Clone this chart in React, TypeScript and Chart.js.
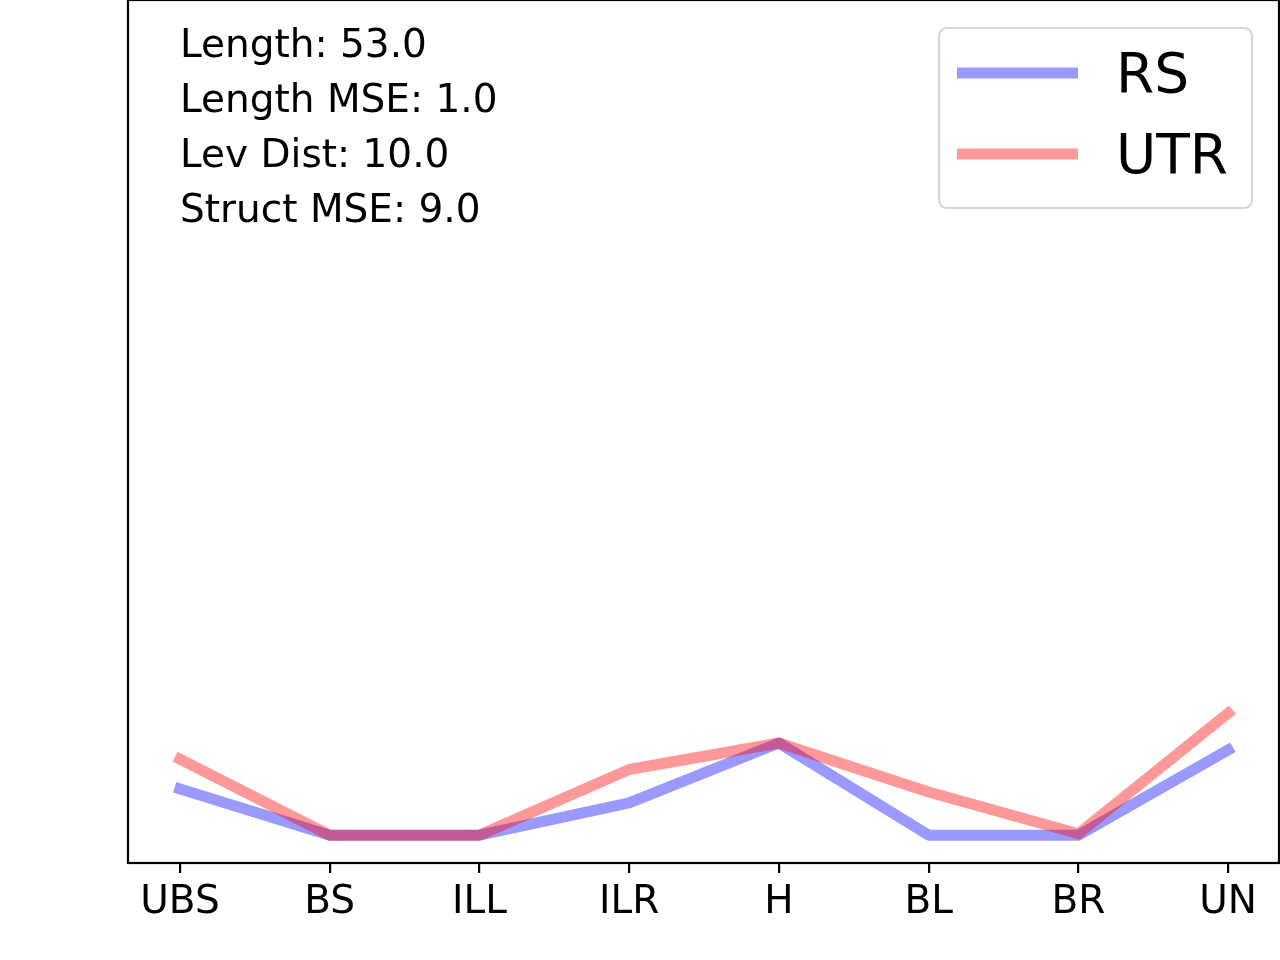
import React, { useEffect, useRef } from 'react';
import { Chart, registerables } from 'chart.js';

Chart.register(...registerables);

const categories = ['UBS', 'BS', 'ILL', 'ILR', 'H', 'BL', 'BR', 'UN'];
const seriesNames = ['RS', 'UTR'];
const rsValues = [1.66, 0, 0, 1.16, 3.31, 0, 0, 3.06];
const utrValues = [2.73, 0, 0, 2.36, 3.31, 1.55, 0.05, 4.38];
const statLabels = ['Length', 'Length MSE', 'Lev Dist', 'Struct MSE'];
const statValues = [53.0, 1.0, 10.0, 9.0];

const FONT = '"DejaVu Sans", sans-serif';
const BLUE = 'rgba(0, 0, 255, 0.4)';
const RED = 'rgba(255, 0, 0, 0.4)';

// spines, stats text and the legend box, drawn in matplotlib style
const overlayPlugin = {
  id: 'overlay',
  afterDatasetsDraw(chart: any) {
    const { ctx, chartArea } = chart;
    ctx.save();
    ctx.strokeStyle = '#000';
    ctx.lineWidth = 2.2;
    ctx.strokeRect(chartArea.left, chartArea.top, chartArea.right - chartArea.left, chartArea.bottom - chartArea.top);

    ctx.fillStyle = '#000';
    ctx.font = `39px ${FONT}`;
    ctx.textAlign = 'left';
    ctx.textBaseline = 'alphabetic';
    statLabels.forEach((label, i) => {
      ctx.fillText(`${label}: ${statValues[i].toFixed(1)}`, 180, 57 + i * 55);
    });

    // legend
    const bx = 939, by = 28, bw = 313, bh = 180, r = 8;
    ctx.beginPath();
    ctx.moveTo(bx + r, by);
    ctx.arcTo(bx + bw, by, bx + bw, by + bh, r);
    ctx.arcTo(bx + bw, by + bh, bx, by + bh, r);
    ctx.arcTo(bx, by + bh, bx, by, r);
    ctx.arcTo(bx, by, bx + bw, by, r);
    ctx.closePath();
    ctx.fillStyle = 'rgba(255,255,255,0.8)';
    ctx.fill();
    ctx.strokeStyle = '#d6d6d6';
    ctx.lineWidth = 2.2;
    ctx.stroke();

    const colors = [BLUE, RED];
    ctx.font = `55px ${FONT}`;
    seriesNames.forEach((name, i) => {
      const y = 73 + i * 81;
      ctx.strokeStyle = colors[i];
      ctx.lineWidth = 11;
      ctx.lineCap = 'butt';
      ctx.beginPath();
      ctx.moveTo(957, y);
      ctx.lineTo(1078, y);
      ctx.stroke();
      ctx.fillStyle = '#000';
      ctx.fillText(name, 1116, y + 19);
    });
    ctx.restore();
  },
};

const App: React.FC = () => {
  const chartRef = useRef<HTMLCanvasElement | null>(null);
  const chartInstance = useRef<Chart | null>(null);

  useEffect(() => {
    if (!chartRef.current) return;
    if (chartInstance.current) chartInstance.current.destroy();

    chartInstance.current = new Chart(chartRef.current, {
      type: 'line',
      data: {
        datasets: [
          {
            label: seriesNames[0],
            data: rsValues.map((v, i) => ({ x: i, y: v })),
            borderColor: BLUE,
            borderWidth: 11,
            borderCapStyle: 'square',
            borderJoinStyle: 'round',
            pointRadius: 0,
            tension: 0,
            order: 1,
          },
          {
            label: seriesNames[1],
            data: utrValues.map((v, i) => ({ x: i, y: v })),
            borderColor: RED,
            borderWidth: 11,
            borderCapStyle: 'square',
            borderJoinStyle: 'round',
            pointRadius: 0,
            tension: 0,
            order: 0,
          },
        ],
      },
      options: {
        animation: false,
        responsive: true,
        maintainAspectRatio: false,
        layout: { padding: { left: 128, right: 1, top: 0, bottom: 0 } },
        plugins: {
          legend: { display: false },
          tooltip: { enabled: false },
        },
        scales: {
          x: {
            type: 'linear',
            min: -0.347,
            max: 7.34,
            afterFit: (scale: any) => {
              scale.height = 97;
            },
            border: { display: false },
            grid: {
              display: true,
              drawOnChartArea: false,
              drawTicks: true,
              tickLength: 10,
              color: '#000',
              lineWidth: 2.2,
            },
            ticks: {
              stepSize: 1,
              includeBounds: false,
              autoSkip: false,
              maxRotation: 0,
              padding: 6,
              color: '#000',
              font: { family: FONT, size: 39 },
              callback: (value: any) => (Number.isInteger(value) ? categories[value] ?? '' : ''),
            },
          },
          y: {
            display: false,
            min: -1,
            max: 30,
          },
        },
      },
      plugins: [overlayPlugin],
    });

    return () => {
      if (chartInstance.current) {
        chartInstance.current.destroy();
        chartInstance.current = null;
      }
    };
  }, []);

  return (
    <div style={{ position: 'fixed', left: 0, top: 0, width: 1280, height: 960, background: '#fff' }}>
      <canvas ref={chartRef}></canvas>
    </div>
  );
};

export default App;
